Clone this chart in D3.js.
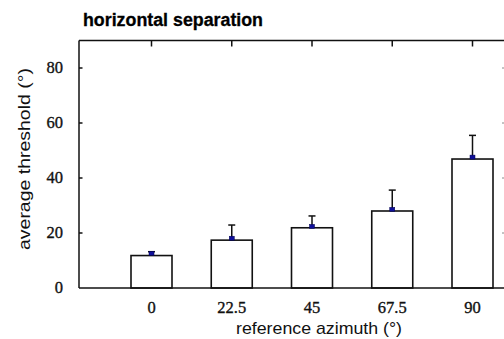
<!DOCTYPE html>
<html><head><meta charset="utf-8">
<script src="https://cdn.jsdelivr.net/npm/d3@7"></script>
<style>body{margin:0;background:#fff}svg{display:block}
svg text.serif{font-family:"Liberation Serif","Times New Roman",Times,serif}
svg text.sans{font-family:"Liberation Sans",Arial,Helvetica,sans-serif}</style>
</head><body>
<svg id="c" width="504" height="339"></svg>
<script>
const categories = ["0", "22.5", "45", "67.5", "90"];
const barValues = [11.8, 17.4, 21.9, 28.0, 46.9];
const meanDots = [12.6, 18.1, 22.4, 28.6, 47.6];
const errorTops = [13.2, 22.9, 26.2, 35.6, 55.5];
const yTicks = [0, 20, 40, 60, 80];
const title = "horizontal separation";
const xTitle = "reference azimuth (°)";
const yTitle = "average threshold (°)";

const svg = d3.select("#c");
const L = 79, R = 507, T = 40.5, B = 288;
const x = d3.scalePoint().domain(categories).range([151.5, 472.5]);
const y = d3.scaleLinear().domain([0, 90]).range([B, T]);
const bw = 41;
const ink = "#111";

// bars
svg.append("g").selectAll("rect").data(categories).join("rect")
  .attr("x", d => x(d) - bw / 2)
  .attr("y", (d, i) => y(barValues[i]))
  .attr("width", bw)
  .attr("height", (d, i) => B - y(barValues[i]))
  .attr("fill", "#fff").attr("stroke", ink).attr("stroke-width", 1.6);

// error bars
const eg = svg.append("g").attr("stroke", ink).attr("stroke-width", 1.5);
eg.selectAll("line.stem").data(categories).join("line").attr("class", "stem")
  .attr("x1", d => x(d)).attr("x2", d => x(d))
  .attr("y1", (d, i) => y(meanDots[i])).attr("y2", (d, i) => y(errorTops[i]));
eg.selectAll("line.cap").data(categories).join("line").attr("class", "cap")
  .attr("x1", d => x(d) - 3.5).attr("x2", d => x(d) + 3.5)
  .attr("y1", (d, i) => y(errorTops[i])).attr("y2", (d, i) => y(errorTops[i]));

// mean dots
svg.append("g").selectAll("rect").data(categories).join("rect")
  .attr("x", d => x(d) - 2.5).attr("y", (d, i) => y(meanDots[i]) - 2)
  .attr("width", 5).attr("height", 4)
  .attr("fill", "#10109a").attr("stroke", "#000050").attr("stroke-width", 0.5);

// frame
const fg = svg.append("g").attr("stroke", ink).attr("stroke-width", 1.5).attr("fill", "none");
fg.append("line").attr("x1", L).attr("x2", L).attr("y1", T).attr("y2", B);
fg.append("line").attr("x1", L).attr("x2", R).attr("y1", T).attr("y2", T);
fg.append("line").attr("x1", L).attr("x2", R).attr("y1", B).attr("y2", B);
fg.append("line").attr("x1", R).attr("x2", R).attr("y1", T).attr("y2", B);

// top ticks (inward)
fg.selectAll("line.tt").data(categories).join("line").attr("class", "tt")
  .attr("x1", d => x(d)).attr("x2", d => x(d)).attr("y1", T).attr("y2", T + 6);
// left ticks (inward)
fg.selectAll("line.lt").data(yTicks.slice(1)).join("line").attr("class", "lt")
  .attr("x1", L).attr("x2", L + 3.5).attr("y1", d => y(d)).attr("y2", d => y(d));
// right ticks (inward)
fg.selectAll("line.rt").data(yTicks.slice(1)).join("line").attr("class", "rt")
  .attr("x1", R - 5).attr("x2", R).attr("y1", d => y(d)).attr("y2", d => y(d))
  .attr("stroke", "#888").attr("stroke-width", 1);

// y tick labels
svg.append("g").selectAll("text").data(yTicks).join("text")
  .attr("class", "serif")
  .attr("x", 63).attr("y", d => y(d)).attr("dy", "0.32em")
  .attr("text-anchor", "end")
  .attr("font-size", 16.5).attr("fill", ink)
  .attr("stroke", ink).attr("stroke-width", 0.35).text(d => d);

// x tick labels
svg.append("g").selectAll("text").data(categories).join("text")
  .attr("class", "serif")
  .attr("x", d => x(d)).attr("y", 312.7)
  .attr("text-anchor", "middle")
  .attr("font-size", 16.5).attr("fill", ink)
  .attr("stroke", ink).attr("stroke-width", 0.35).text(d => d);

// titles
svg.append("text").attr("class", "sans").attr("x", 83).attr("y", 26)
  .attr("font-weight", "bold")
  .attr("font-size", 17.5).attr("textLength", 180).attr("lengthAdjust", "spacingAndGlyphs")
  .attr("fill", "#000").attr("stroke", "#000").attr("stroke-width", 0.3).text(title);
svg.append("text").attr("class", "sans").attr("x", 319).attr("y", 334).attr("text-anchor", "middle")
  .attr("font-size", 17).attr("textLength", 166).attr("lengthAdjust", "spacingAndGlyphs")
  .attr("fill", ink).text(xTitle);
svg.append("text").attr("class", "sans").attr("transform", "translate(30,159) rotate(-90)").attr("text-anchor", "middle")
  .attr("font-size", 17).attr("textLength", 182).attr("lengthAdjust", "spacingAndGlyphs")
  .attr("fill", ink).text(yTitle);
</script>
</body></html>
